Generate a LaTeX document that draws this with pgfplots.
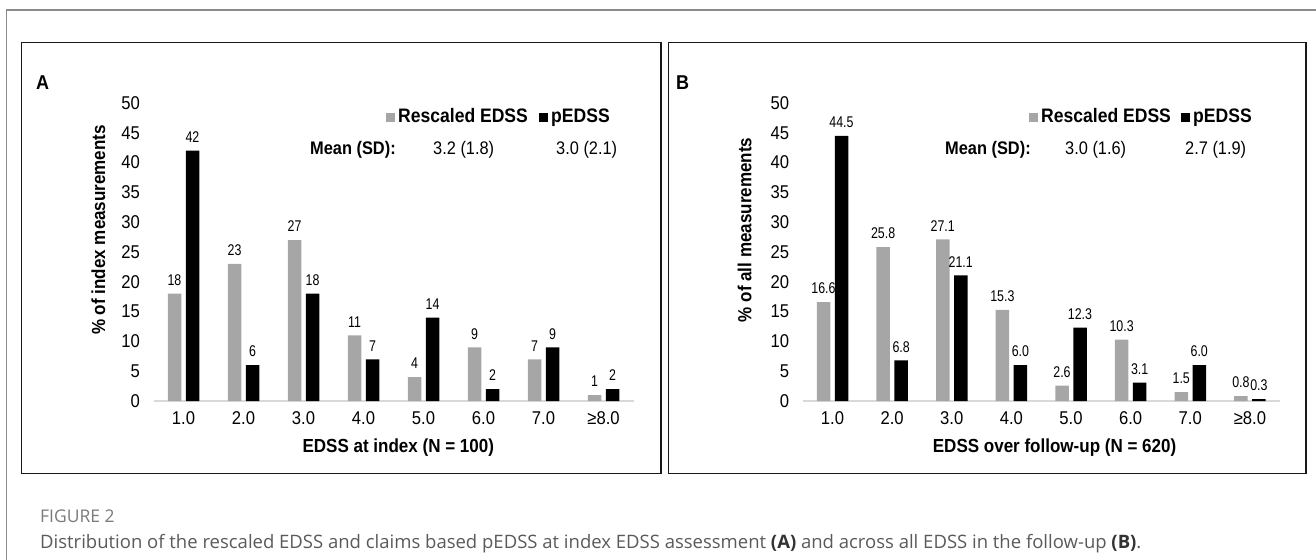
\documentclass[border=0pt]{standalone}
\usepackage{pgfplots}
\pgfplotsset{compat=1.18}
\usepackage{fontspec}
\setmainfont[FakeStretch=0.9]{Liberation Sans}
\newfontfamily\narrowfont[FakeStretch=0.8]{Liberation Sans}
\newfontfamily\capfont{Open Sans}
\definecolor{barg}{HTML}{A6A6A6}
\definecolor{axg}{HTML}{D9D9D9}
\definecolor{frameg}{HTML}{8C8C8C}
\definecolor{capg}{HTML}{5A5A5A}
\definecolor{figg}{HTML}{7A7A7A}
\newcommand\fs[1]{\fontsize{#1bp}{#1bp}\selectfont}

\pgfplotstableread{
x  resc  ped
1  18    42
2  23    6
3  27    18
4  11    7
5  4     14
6  9     2
7  7     9
8  1     2
}\dataA
\pgfplotstableread{
x  resc  ped
1  16.6  44.5
2  25.8  6.8
3  27.1  21.1
4  15.3  6.0
5  2.6   12.3
6  10.3  3.1
7  1.5   6.0
8  0.8   0.3
}\dataB

\pgfplotsset{
  panel/.style={
    scale only axis, height=298bp,
    ybar, bar width=13.5bp,
    xmin=0.5, xmax=8.5, ymin=0, ymax=50,
    axis x line*=bottom, axis y line*=left,
    x axis line style={draw=axg, line width=1.5bp, -},
    y axis line style={draw=none},
    major tick length=0pt,
    xtick={1,...,8},
    xticklabels={1.0,2.0,3.0,4.0,5.0,6.0,7.0,{≥8.0}},
    ytick={0,5,...,50},
    tick label style={font=\fs{18.5}},
    xticklabel style={yshift=-7bp},
    /pgf/number format/assume math mode=true,
    xlabel style={font=\bfseries\fs{18.9}, anchor=center},
    ylabel style={font=\bfseries\fs{18.9}, anchor=center},
    every node near coord/.append style={font=\narrowfont\fs{15.5}, inner sep=0pt, anchor=south, yshift=8bp},
    clip=false,
  },
}

\begin{document}
\begin{tikzpicture}
\useasboundingbox (0bp,0bp) rectangle (1316bp,-560bp);
\begin{scope}[x=1bp,y=-1bp]
  % outer frame
  \draw[frameg, line width=1.5bp] (6.5,562) -- (6.5,10) -- (1318,10);
  % panel boxes
  \draw[black!90, line width=1.8bp] (21.5,42.5) rectangle (661,473.5);
  \draw[black!90, line width=1.8bp] (668.5,42.5) rectangle (1306,473.5);
  % panel letters
  \node[anchor=base west, inner sep=0, font=\bfseries\fs{20}] at (36,89) {A};
  \node[anchor=base west, inner sep=0, font=\bfseries\fs{20}] at (676,89) {B};
  % legend A
  \node[anchor=base west, inner sep=0] at (386,121.5) {\textcolor{barg}{\rule{9bp}{9bp}}};
  \node[anchor=base west, inner sep=0, font=\bfseries\fs{19.5}] at (398,122) {Rescaled EDSS};
  \node[anchor=base west, inner sep=0] at (539,121.5) {\rule{9bp}{9bp}};
  \node[anchor=base west, inner sep=0, font=\bfseries\fs{19.5}] at (551,122) {pEDSS};
  \node[anchor=base west, inner sep=0, font=\bfseries\fs{18.2}] at (310,154) {Mean (SD):};
  \node[anchor=base west, inner sep=0, font=\fs{18.2}] at (433,154) {3.2 (1.8)};
  \node[anchor=base west, inner sep=0, font=\fs{18.2}] at (556,154) {3.0 (2.1)};
  % legend B
  \node[anchor=base west, inner sep=0] at (1029,121.5) {\textcolor{barg}{\rule{9bp}{9bp}}};
  \node[anchor=base west, inner sep=0, font=\bfseries\fs{19.5}] at (1041,122) {Rescaled EDSS};
  \node[anchor=base west, inner sep=0] at (1181,121.5) {\rule{9bp}{9bp}};
  \node[anchor=base west, inner sep=0, font=\bfseries\fs{19.5}] at (1193,122) {pEDSS};
  \node[anchor=base west, inner sep=0, font=\bfseries\fs{18.2}] at (945,154) {Mean (SD):};
  \node[anchor=base west, inner sep=0, font=\fs{18.2}] at (1065,154) {3.0 (1.6)};
  \node[anchor=base west, inner sep=0, font=\fs{18.2}] at (1185,154) {2.7 (1.9)};
  % caption
  \node[anchor=base west, inner sep=0, font=\capfont\fs{17.5}, text=figg] at (40,522) {FIGURE 2};
  \node[anchor=base west, inner sep=0, font=\capfont\fs{18.5}, text=capg] at (40,548)
   {Distribution of the rescaled EDSS and claims based pEDSS at index EDSS assessment \textbf{\color{black!80}(A)} and across all EDSS in the follow-up \textbf{\color{black!80}(B)}.};
\end{scope}

% Panel A
\begin{axis}[panel, width=480bp, at={(153.5bp,-401bp)}, anchor=south west,
  yticklabel style={xshift=-10bp},
  xlabel={EDSS at index (N = 100)},
  xlabel style={at={(axis description cs:0.51,0)}, yshift=-47bp},
  ylabel={\% of index measurements},
  ylabel style={at={(axis description cs:-0.115,0.574)}},
  nodes near coords={\pgfmathprintnumber[assume math mode=true]{\pgfplotspointmeta}},
]
\addplot[fill=barg, draw=none, bar shift=-9bp] table[x=x, y=resc] {\dataA};
\addplot[fill=black, draw=none, bar shift=9bp] table[x=x, y=ped] {\dataA};
\end{axis}

% Panel B
\begin{axis}[panel, width=477bp, at={(802.7bp,-401bp)}, anchor=south west,
  yticklabel style={xshift=-10bp},
  xlabel={EDSS over follow-up (N = 620)},
  xlabel style={at={(axis description cs:0.528,0)}, yshift=-47bp},
  ylabel={\% of all measurements},
  ylabel style={at={(axis description cs:-0.122,0.574)}},
  nodes near coords={\pgfmathprintnumber[assume math mode=true,fixed,fixed zerofill,precision=1]{\pgfplotspointmeta}},
]
\addplot[fill=barg, draw=none, bar shift=-9bp] table[x=x, y=resc] {\dataB};
\addplot[fill=black, draw=none, bar shift=9bp] table[x=x, y=ped] {\dataB};
\end{axis}
\end{tikzpicture}
\end{document}
